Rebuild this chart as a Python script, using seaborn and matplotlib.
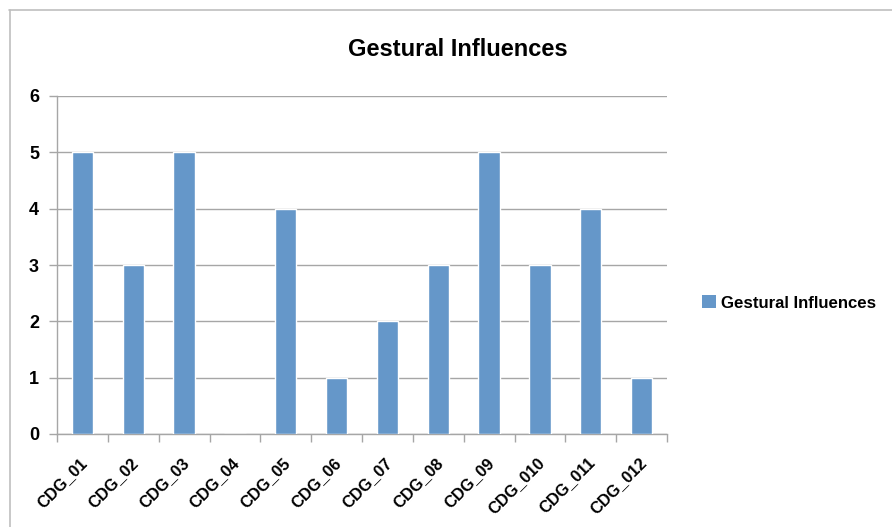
import matplotlib
matplotlib.use("Agg")
import matplotlib.pyplot as plt
from matplotlib.lines import Line2D
from matplotlib.patches import Patch
from matplotlib.transforms import ScaledTranslation
import seaborn as sns
import pandas as pd
import numpy as np

categories = ["CDG_01", "CDG_02", "CDG_03", "CDG_04", "CDG_05", "CDG_06",
              "CDG_07", "CDG_08", "CDG_09", "CDG_010", "CDG_011", "CDG_012"]
values = [5, 3, 5, 0, 4, 1, 2, 3, 5, 3, 4, 1]
series_name = "Gestural Influences"
y_ticks = [0, 1, 2, 3, 4, 5, 6]

bar_color = "#6597C9"
grid_color = "#A6A6A6"

sns.set_theme(style="white")
plt.rcParams["font.family"] = ["Liberation Sans", "DejaVu Sans"]
plt.rcParams["text.color"] = "black"
plt.rcParams["xtick.labelcolor"] = "black"
plt.rcParams["ytick.labelcolor"] = "black"

df = pd.DataFrame({"category": categories, "value": values})

fig = plt.figure(figsize=(8.92, 5.27), dpi=100)
ax = fig.add_axes([57 / 892, 1 - 434 / 527, (667 - 57) / 892, (434 - 96) / 527])

sns.barplot(data=df, x="category", y="value", color=bar_color, width=0.42,
            saturation=1, ax=ax, zorder=3)

ax.set_ylim(0, 6)
ax.set_xlim(-0.5, len(categories) - 0.5)
ax.set_yticks(y_ticks)
ax.set_yticklabels([str(t) for t in y_ticks], fontsize=13, fontweight="bold")
ax.yaxis.grid(True, color=grid_color, linewidth=1, zorder=0)
ax.xaxis.grid(False)
ax.set_xlabel("")
ax.set_ylabel("")

# category labels on major ticks (hidden), tick marks on boundaries
ax.set_xticks(range(len(categories)))
ax.set_xticklabels(categories, rotation=45, ha="right", rotation_mode="anchor",
                   fontsize=11.8, fontweight="bold")
ax.tick_params(axis="x", which="major", length=0, pad=15)
shift = ScaledTranslation(-3 / 100, 0, fig.dpi_scale_trans)
for lbl in ax.get_xticklabels():
    lbl.set_transform(lbl.get_transform() + shift)
ax.set_xticks(np.arange(-0.5, len(categories)), minor=True)
ax.tick_params(axis="x", which="minor", length=6, width=1, color=grid_color,
               direction="out", bottom=True)
ax.tick_params(axis="y", which="major", length=6, width=1, color=grid_color,
               direction="out", left=True, pad=7)

for side in ["top", "right"]:
    ax.spines[side].set_visible(False)
for side in ["left", "bottom"]:
    ax.spines[side].set_color(grid_color)
    ax.spines[side].set_linewidth(1)

fig.text(458 / 892, 1 - 50 / 527, series_name, ha="center", va="center",
         fontsize=17, fontweight="bold", color="black")

handle = Patch(facecolor=bar_color, edgecolor="none")
fig.legend([handle], [series_name], loc="center left",
           bbox_to_anchor=(687 / 892, 1 - 303 / 527), frameon=False,
           handlelength=0.8, handleheight=0.8, handletextpad=0.3,
           labelcolor="black", prop={"size": 12.1, "weight": "bold"})

# chart area border
border_color = "#BFBFBF"
fig.add_artist(Line2D([9 / 892, 1], [1 - 10 / 527, 1 - 10 / 527],
                      transform=fig.transFigure, color=border_color, linewidth=1.2))
fig.add_artist(Line2D([10 / 892, 10 / 892], [0, 1 - 10 / 527],
                      transform=fig.transFigure, color=border_color, linewidth=1.2))

fig.savefig("out.png", dpi=100)
